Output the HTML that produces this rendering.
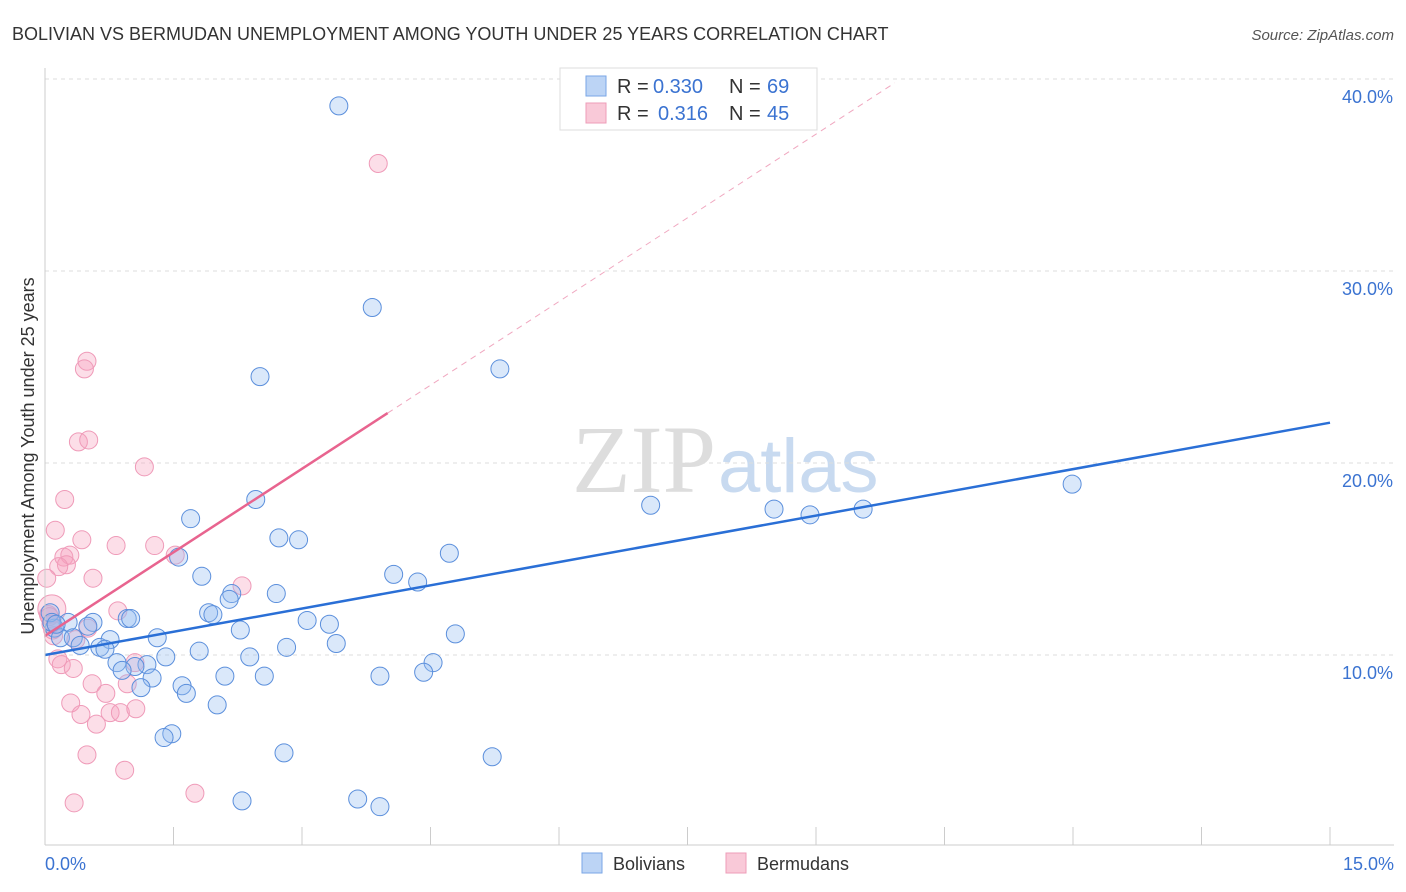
<!DOCTYPE html>
<html><head><meta charset="utf-8"><style>
body{margin:0;background:#fff;font-family:"Liberation Sans",sans-serif;}
svg{display:block}
</style></head><body>
<svg id="c" width="1406" height="892">
<text x="12" y="40" font-size="18" fill="#333">BOLIVIAN VS BERMUDAN UNEMPLOYMENT AMONG YOUTH UNDER 25 YEARS CORRELATION CHART</text>
<text x="1394" y="40" font-size="15" fill="#555" font-style="italic" text-anchor="end">Source: ZipAtlas.com</text>
<text transform="translate(34,456) rotate(-90)" font-size="18" fill="#333" text-anchor="middle">Unemployment Among Youth under 25 years</text>
<text x="716" y="492" font-size="96" fill="#ddd" font-family="Liberation Serif,serif" text-anchor="end">ZIP</text>
<text x="718" y="492" font-size="76" fill="#c8daf0" text-anchor="start">atlas</text>
<g id="grid"></g><g id="pts"></g><g id="lines"></g>
<line x1="45" y1="68" x2="45" y2="845" stroke="#ccc"/>
<line x1="45" y1="845" x2="1394" y2="845" stroke="#ccc"/>
<text x="45" y="870" font-size="18" fill="#3b73d1">0.0%</text>
<text x="1394" y="870" font-size="18" fill="#3b73d1" text-anchor="end">15.0%</text>
<g font-size="20">
<rect x="560" y="68" width="257" height="62" fill="#fff" stroke="#ddd"/>
<rect x="586" y="76" width="20" height="20" fill="#bcd4f5" stroke="#7aa6e6"/>
<rect x="586" y="103" width="20" height="20" fill="#f9c9d8" stroke="#ee9db8"/>
<text x="617" y="93" fill="#333">R =</text><text x="653" y="93" fill="#3b73d1">0.330</text>
<text x="729" y="93" fill="#333">N =</text><text x="767" y="93" fill="#3b73d1">69</text>
<text x="617" y="120" fill="#333">R =</text><text x="658" y="120" fill="#3b73d1">0.316</text>
<text x="729" y="120" fill="#333">N =</text><text x="767" y="120" fill="#3b73d1">45</text>
</g>
<g>
<rect x="582" y="853" width="20" height="20" fill="#bcd4f5" stroke="#7aa6e6"/>
<text x="613" y="870" font-size="18" fill="#333">Bolivians</text>
<rect x="726" y="853" width="20" height="20" fill="#f9c9d8" stroke="#ee9db8"/>
<text x="757" y="870" font-size="18" fill="#333">Bermudans</text>
</g>
</svg>
<script>
const yTicks=[10,20,30,40];
const xTickVals=[0,1.5,3,4.5,6,7.5,9,10.5,12,13.5,15];
const blueX=[3.43,3.82,2.51,5.31,2.46,1.70,1.56,2.73,2.96,4.72,4.07,4.35,1.83,2.18,2.15,2.70,1.91,1.96,3.06,3.32,2.28,4.79,3.40,2.82,1.31,0.96,1.00,0.56,0.50,0.27,0.11,0.18,0.33,0.41,0.76,0.64,0.70,1.41,1.80,2.39,4.53,0.84,1.19,1.05,0.90,1.25,2.10,2.56,3.91,4.42,1.12,1.60,1.65,2.01,1.48,1.39,2.79,5.22,2.30,3.65,3.91,7.07,8.51,8.93,9.55,11.99,0.06,0.08,0.13];
const blueY=[38.6,28.1,24.5,24.9,18.1,17.1,15.1,16.1,16.0,15.3,14.2,13.8,14.1,13.2,12.9,13.2,12.2,12.1,11.8,11.6,11.3,11.1,10.6,10.4,10.9,11.9,11.9,11.7,11.5,11.7,11.4,10.9,10.9,10.5,10.8,10.4,10.3,9.9,10.2,9.9,9.6,9.6,9.5,9.4,9.2,8.8,8.9,8.9,8.9,9.1,8.3,8.4,8.0,7.4,5.9,5.7,4.9,4.7,2.4,2.5,2.1,17.8,17.6,17.3,17.6,18.9,12.2,11.7,11.6];
const pinkX=[3.89,0.49,0.46,0.39,0.51,1.16,0.23,0.12,0.43,0.83,1.28,0.22,0.29,0.25,0.16,0.56,1.52,0.02,2.30,0.08,0.85,0.04,0.50,0.09,0.15,0.19,0.33,1.05,0.55,0.96,0.71,0.30,0.42,0.76,0.88,1.06,0.60,0.49,0.93,1.75,0.34,0.36,0.05,0.1,0.07];
const pinkY=[35.6,25.3,24.9,21.1,21.2,19.8,18.1,16.5,16.0,15.7,15.7,15.1,15.2,14.7,14.6,14.0,15.2,14.0,13.6,12.4,12.3,12.1,11.4,11.3,9.8,9.5,9.3,9.6,8.5,8.5,8.0,7.5,6.9,7.0,7.0,7.2,6.4,4.8,4.0,2.8,2.3,10.8,12.0,11.0,11.6];
const blueLine=[[0,10.0],[15,22.1]];
const pinkLine=[[0,11.0],[4.0,22.6]];
const pinkDash=[[4.0,22.6],[9.92,39.8]];
const NS='http://www.w3.org/2000/svg';
const sx=v=>45+v/15*1285, sy=v=>847-v*19.2;
function mk(t,a,p){const e=document.createElementNS(NS,t);for(const k in a)e.setAttribute(k,a[k]);p.appendChild(e);return e;}
const g=document.getElementById('grid');
yTicks.forEach(t=>{
 const l=mk('line',{x1:45,x2:1394,y1:sy(t),y2:sy(t),stroke:'#ddd','stroke-dasharray':'4,4'},g);
 
 
 const tx=mk('text',{x:1393,y:sy(t)+24,'font-size':18,fill:'#3b73d1','text-anchor':'end'},g);
 tx.textContent=t.toFixed(1)+'%';
 
 
});
xTickVals.forEach(t=>{
 const l=mk('line',{x1:sx(t),x2:sx(t),y1:827,y2:845,stroke:'#ccc'},g);
 
 
});
const p=document.getElementById('pts');
pinkX.forEach((x,i)=>{
 const c=mk('circle',{cx:sx(x),cy:sy(pinkY[i]),r:i==19?14:9,fill:'rgba(245,160,190,0.35)',stroke:'#ef9ab8','stroke-width':1},p);
 
 
});
blueX.forEach((x,i)=>{
 const c=mk('circle',{cx:sx(x),cy:sy(blueY[i]),r:9,fill:'rgba(150,190,240,0.35)',stroke:'#5b8fdc','stroke-width':1},p);
 
 
});
const L=document.getElementById('lines');
const bl=mk('line',{x1:sx(blueLine[0][0]),y1:sy(blueLine[0][1]),x2:sx(blueLine[1][0]),y2:sy(blueLine[1][1]),stroke:'#2a6fd6','stroke-width':2.5},L);


const pl=mk('line',{x1:sx(pinkLine[0][0]),y1:sy(pinkLine[0][1]),x2:sx(pinkLine[1][0]),y2:sy(pinkLine[1][1]),stroke:'#e8648f','stroke-width':2.5},L);


const pd=mk('line',{x1:sx(pinkDash[0][0]),y1:sy(pinkDash[0][1]),x2:sx(pinkDash[1][0]),y2:sy(pinkDash[1][1]),stroke:'#f0a8c0','stroke-width':1,'stroke-dasharray':'6,5'},L);


</script>
</body></html>
